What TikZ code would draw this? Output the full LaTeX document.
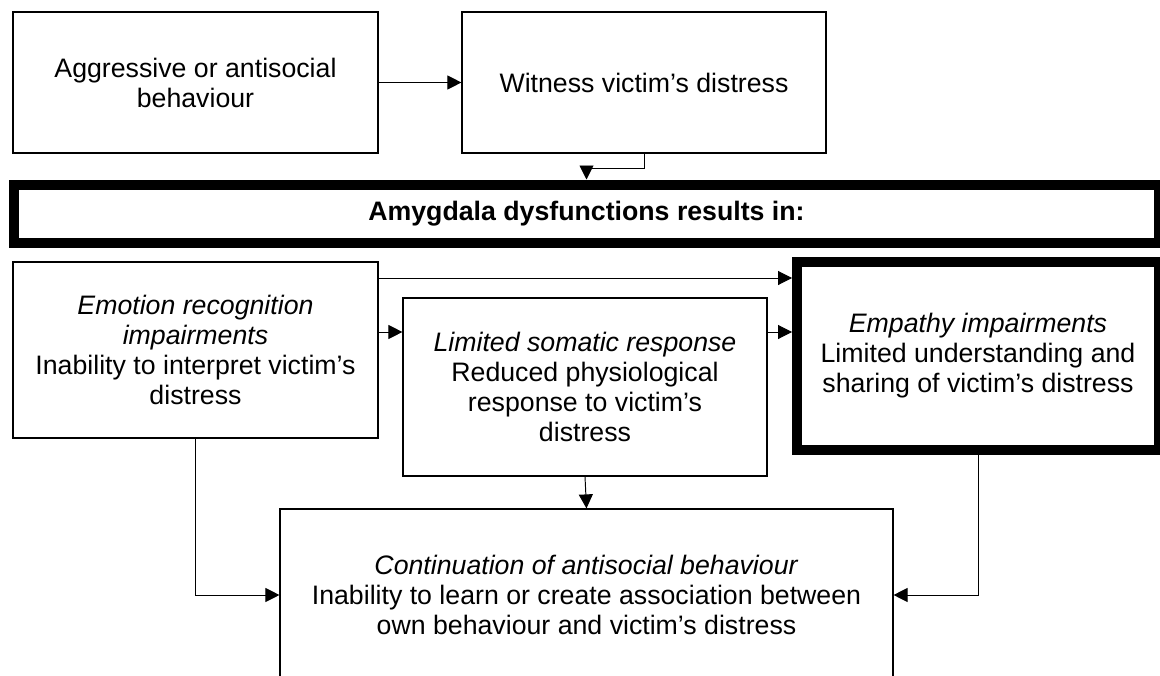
\documentclass[tikz,border=0pt]{standalone}
\usepackage{fontspec}
\setmainfont{Liberation Sans}
\usepackage{tikz}
\usetikzlibrary{arrows.meta}
\tikzstyle{Box}=[draw,rectangle,line width=0.7pt,align=center,inner sep=2pt,
font=\fontsize{15.2}{17.1}\selectfont]
\tikzstyle{BoldBox}=[Box,line width=5.7pt]
\tikzstyle{Arrow}=[draw,line width=0.55pt,
-{Triangle[length=0.28cm,width=0.28cm]}]

\begin{document}
\begin{tikzpicture}[x=0.02cm,y=-0.02cm]
        \clip(0,0)rectangle(1160,676);
        \node[Box,minimum width=7.3cm,minimum height=2.82cm](aggr)
            at(195.5,82.5){Aggressive or antisocial\\behaviour};
        \node[Box,minimum width=7.28cm,minimum height=2.82cm](witness)
            at(644,82.5){Witness victim’s distress};
        \node[BoldBox,minimum width=22.9cm,minimum height=1.17cm](amyg)
            at(586.5,213.75){\textbf{Amygdala dysfunctions results in:}};
        \node[Box,minimum width=7.3cm,minimum height=3.52cm](emotion)
            at(195.5,350){\textit{Emotion recognition}\\\textit{impairments}\\
            Inability to interpret victim’s\\distress};
        \node[Box,minimum width=7.28cm,minimum height=3.56cm](somatic)
            at(585,387){\textit{Limited somatic response}\\Reduced physiological\\
            response to victim’s\\distress};
        \node[BoldBox,minimum width=7.24cm,minimum height=3.76cm](empathy)
            at(978,356){\textit{Empathy impairments}\\Limited understanding and\\
            sharing of victim’s distress};
        \node[Box,minimum width=12.26cm,minimum height=3.44cm](contin)
            at(586.5,595){\textit{Continuation of antisocial behaviour}\\
            Inability to learn or create association between\\
            own behaviour and victim’s distress};
        \draw[Arrow](aggr)--(witness);
        \draw[Arrow](witness.south)--++(0,15)-|(amyg.north);
        \draw[Arrow](emotion.east|-0,278)--(empathy.west|-0,278);
        \draw[Arrow](emotion.east|-0,332)--(somatic.west|-0,332);
        \draw[Arrow](somatic.east|-0,332)--(empathy.west|-0,332);
        \draw[Arrow](emotion.south)|-(contin.west);
        \draw[Arrow](somatic.south)--(contin.north);
        \draw[Arrow](empathy.south)|-(contin.east);
    \end{tikzpicture}
\end{document}
